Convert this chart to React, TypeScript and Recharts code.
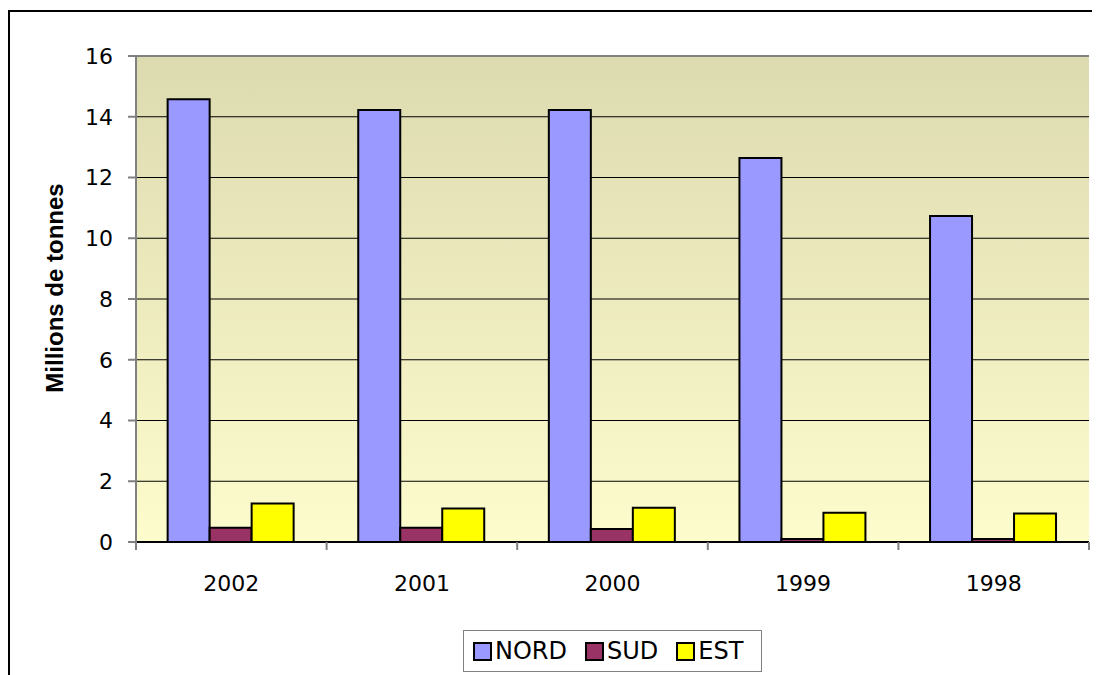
import React from "react";
import {
  BarChart,
  Bar,
  XAxis,
  YAxis,
  CartesianGrid,
  Legend,
  ReferenceLine,
  Label,
} from "recharts";

const years = ["2002", "2001", "2000", "1999", "1998"];
const nord = [14.58, 14.22, 14.22, 12.64, 10.73];
const sud = [0.47, 0.47, 0.43, 0.1, 0.1];
const est = [1.27, 1.1, 1.13, 0.96, 0.94];
const seriesOrder = ["NORD", "SUD", "EST"];
const yTicks = [0, 2, 4, 6, 8, 10, 12, 14, 16];

const data = years.map((year, i) => ({
  year,
  NORD: nord[i],
  SUD: sud[i],
  EST: est[i],
}));

const FONT = "'DejaVu Sans', sans-serif";
const BAND = (1081 - 128) / years.length;

function XTick(props: any) {
  const { x, y, payload, index } = props;
  return (
    <g>
      <line x1={x - BAND / 2} x2={x - BAND / 2} y1={y - 8} y2={y} stroke="#808080" strokeWidth={2} />
      {index === years.length - 1 && (
        <line x1={x + BAND / 2} x2={x + BAND / 2} y1={y - 8} y2={y} stroke="#808080" strokeWidth={2} />
      )}
      <text x={x} y={y + 41} textAnchor="middle" fontFamily={FONT} fontSize={22} fill="#000">
        {payload.value}
      </text>
    </g>
  );
}

function LegendBox(props: any) {
  const items = [...(props.payload || [])].sort(
    (a: any, b: any) => seriesOrder.indexOf(a.value) - seriesOrder.indexOf(b.value)
  );
  return (
    <div
      style={{
        border: "1px solid #808080",
        display: "flex",
        alignItems: "center",
        height: 42,
        boxSizing: "border-box",
        padding: "0 0 0 9px",
        background: "#fff",
        fontFamily: FONT,
        fontSize: 24,
        color: "#000",
      }}
    >
      {items.map((entry: any) => (
        <span key={entry.value} style={{ display: "flex", alignItems: "center", marginRight: 18 }}>
          <span
            style={{
              display: "inline-block",
              width: 15,
              height: 15,
              border: "2px solid #000",
              background: entry.color,
              marginRight: 3,
            }}
          />
          {entry.value}
        </span>
      ))}
    </div>
  );
}

export default function App() {
  return (
    <div style={{ position: "relative", width: 1092, height: 667, overflow: "hidden" }}>
      <svg width={0} height={0} style={{ position: "absolute" }}>
        <defs>
          <linearGradient id="plotBg" x1="0" y1="0" x2="0" y2="1">
            <stop offset="0%" stopColor="#DCDAAF" />
            <stop offset="100%" stopColor="#FDFCCD" />
          </linearGradient>
        </defs>
      </svg>
      <div
        style={{
          position: "absolute",
          left: 0,
          top: 2,
          width: 1200,
          height: 800,
          borderLeft: "2px solid #000",
          borderTop: "2px solid #000",
        }}
      />
      <div style={{ position: "absolute", left: 0, top: 0 }}>
        <BarChart
          width={1092}
          height={667}
          data={data}
          margin={{ top: 48, right: 11, left: 0, bottom: 83 }}
          barCategoryGap="16.6%"
          barGap={0}
        >
          <CartesianGrid
            vertical={false}
            stroke="#000"
            strokeWidth={1}
            fill="url(#plotBg)"
            fillOpacity={1}
          />
          <XAxis
            dataKey="year"
            height={50}
            axisLine={{ stroke: "#000", strokeWidth: 2 }}
            tickLine={false}
            tickSize={8}
            tickMargin={0}
            interval={0}
            tick={<XTick />}
          />
          <YAxis
            width={128}
            domain={[0, 16]}
            ticks={yTicks}
            interval={0}
            axisLine={{ stroke: "#808080", strokeWidth: 2 }}
            tickLine={{ stroke: "#808080", strokeWidth: 2 }}
            tickSize={8}
            tickMargin={15}
            tick={{ fontFamily: FONT, fontSize: 22, fill: "#000" }}
          >
            <Label
              content={(p: any) => {
                const vb = p.viewBox || {};
                const cx = vb.x + vb.width / 2 - 18;
                const cy = vb.y + vb.height / 2 - 11;
                return (
                  <text
                    x={cx}
                    y={cy}
                    transform={`rotate(-90, ${cx}, ${cy})`}
                    textAnchor="middle"
                    dominantBaseline="central"
                    fontFamily="'Liberation Sans', Arial, sans-serif"
                    fontWeight="bold"
                    fontSize={24}
                    fill="#000"
                  >
                    Millions de tonnes
                  </text>
                );
              }}
            />
          </YAxis>
          <YAxis
            yAxisId="right"
            orientation="right"
            width={0}
            domain={[0, 16]}
            tick={false}
            tickLine={false}
            axisLine={{ stroke: "#808080", strokeWidth: 2 }}
          />
          <ReferenceLine y={16} stroke="#808080" strokeWidth={2} />
          <Legend
            layout="horizontal"
            verticalAlign="middle"
            align="center"
            content={<LegendBox />}
            wrapperStyle={{ left: 455, top: 622, width: 299, height: 42 }}
          />
          <Bar dataKey="NORD" fill="#9999FF" stroke="#000" strokeWidth={2} isAnimationActive={false} />
          <Bar dataKey="SUD" fill="#993366" stroke="#000" strokeWidth={2} isAnimationActive={false} />
          <Bar dataKey="EST" fill="#FFFF00" stroke="#000" strokeWidth={2} isAnimationActive={false} />
        </BarChart>
      </div>
    </div>
  );
}
